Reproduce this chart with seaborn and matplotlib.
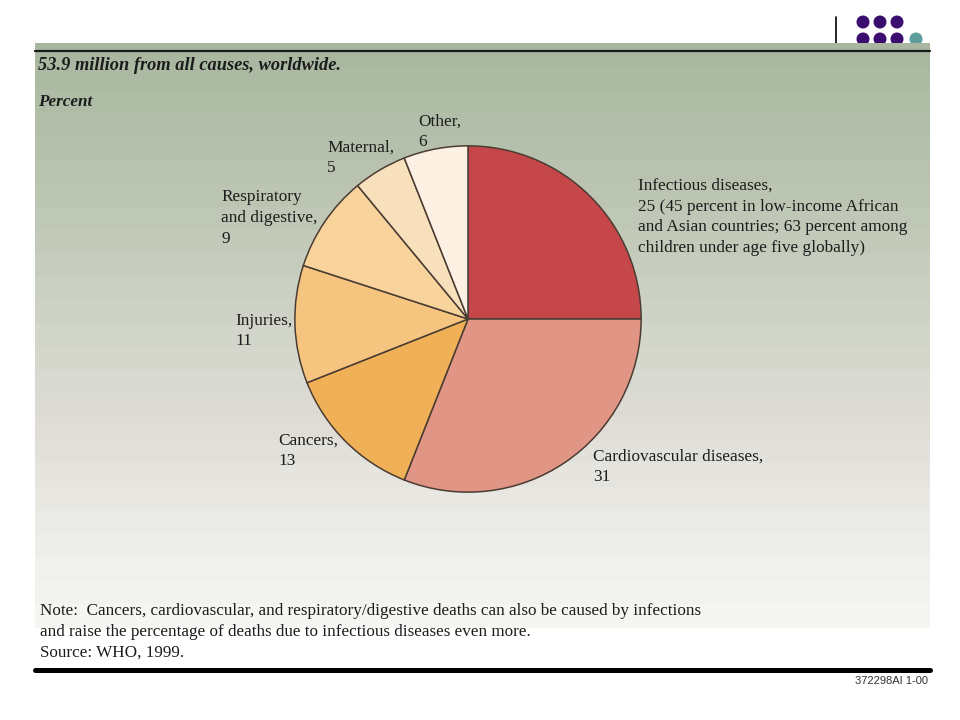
import numpy as np
import matplotlib
matplotlib.use("Agg")
import matplotlib.pyplot as plt
from matplotlib.patches import Rectangle, Circle
from matplotlib.colors import to_rgb
import seaborn as sns

# ---- data ----
categories = ["Infectious diseases", "Cardiovascular diseases", "Cancers", "Injuries",
              "Respiratory and digestive", "Maternal", "Other"]
values = [25, 31, 13, 11, 9, 5, 6]
wedge_colors = ["#c6474a", "#e09585", "#f0b057", "#f5c47f", "#f8d39b", "#f9e0bc", "#fdf1e3"]
label_texts = [
    "Infectious diseases,\n25 (45 percent in low-income African\nand Asian countries; 63 percent among\nchildren under age five globally)",
    "Cardiovascular diseases,\n31",
    "Cancers,\n13",
    "Injuries,\n11",
    "Respiratory\nand digestive,\n9",
    "Maternal,\n5",
    "Other,\n6",
]
title_text = "53.9 million from all causes, worldwide."
unit_text = "Percent"
note_text = ("Note:  Cancers, cardiovascular, and respiratory/digestive deaths can also be caused by infections\n"
             "and raise the percentage of deaths due to infectious diseases even more.\n"
             "Source: WHO, 1999.")
code_text = "372298AI 1-00"

sns.set_theme(style="white")
plt.rcParams["font.family"] = ["Liberation Serif", "DejaVu Serif"]

fig = plt.figure(figsize=(9.6, 7.2), dpi=100)
fig.patch.set_facecolor("white")

bg = fig.add_axes([0, 0, 1, 1])
bg.set_xlim(0, 960)
bg.set_ylim(720, 0)
bg.axis("off")

# decorative dots top-right
for cx in (863, 880, 897):
    for cy in (22, 39):
        bg.add_patch(Circle((cx, cy), 6.5, color="#3a0d6e", zorder=1, lw=0))
bg.add_patch(Circle((916, 39), 6.5, color="#5f9c9c", zorder=1, lw=0))
bg.plot([836, 836], [17, 43], color="black", lw=1.2, zorder=1)

# banded gradient panel
anchors_pos = [0.0, 0.25, 0.5, 0.65, 0.8, 1.0]
anchors_col = ["#a8b69e", "#bac4b1", "#d2d5ca", "#dedcd5", "#e9e9e4", "#f6f6f3"]
top, bottom, left, right = 43, 627, 35, 930
nb = 25
h = (bottom - top) / nb
acols = np.array([to_rgb(c) for c in anchors_col])
for i in range(nb):
    f = (i + 0.5) / nb
    col = [np.interp(f, anchors_pos, acols[:, k]) for k in range(3)]
    bg.add_patch(Rectangle((left, top + i * h), right - left, h + 0.6, color=col, lw=0, zorder=2))

bg.plot([left, right], [51, 51], color="#1a1a1a", lw=1.6, zorder=3)
bg.plot([left, right], [669.5, 669.5], color="black", lw=3.6, zorder=3)

txtc = "#1c1c1c"
bg.text(38, 66, title_text, fontsize=13.2, fontstyle="italic", fontweight="bold",
        color=txtc, va="center", ha="left", zorder=4)
bg.text(38, 102, unit_text, fontsize=12.3, fontstyle="italic", fontweight="bold",
        color=txtc, va="center", ha="left", zorder=4)

bg.text(40, 632, note_text, fontsize=12.3, color=txtc, va="center", ha="left",
        linespacing=1.42, zorder=4)
bg.text(928, 681, code_text, fontsize=8, family=["Liberation Sans", "DejaVu Sans"],
        color="#333333", va="center", ha="right", zorder=4)

# label positions (pixel coords) : (x, y_center)
label_pos = [(638, 217), (593, 467), (278, 451), (235, 331), (221, 218), (327, 158), (418, 132)]
for txt, (x, y) in zip(label_texts, label_pos):
    bg.text(x, y, txt, fontsize=12.4, color=txtc, va="center", ha="left",
            linespacing=1.4, zorder=4)

# pie
cx, cy, r = 468, 319, 174
pax = fig.add_axes([(cx - r) / 960, (720 - cy - r) / 720, 2 * r / 960, 2 * r / 720])
pax.patch.set_alpha(0)
pax.pie(values, colors=wedge_colors, startangle=90, counterclock=False, radius=1,
        wedgeprops=dict(edgecolor="#4a3c32", linewidth=1.1))
pax.set_xlim(-1.005, 1.005)
pax.set_ylim(-1.005, 1.005)
pax.axis("off")

fig.savefig("out.png", dpi=100)
